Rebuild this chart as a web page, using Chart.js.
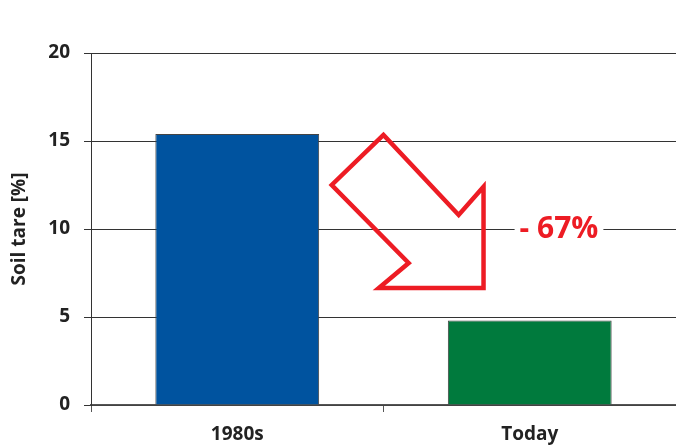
<!DOCTYPE html>
<html>
<head>
<meta charset="utf-8">
<script src="https://cdn.jsdelivr.net/npm/chart.js@4"></script>
<style>
	body { margin: 0; background: #fff; }
	#soilChart { display: block; }
</style>
</head>
<body>
<canvas id="soilChart" width="676" height="445"></canvas>
<script>
'use strict';

// 데이터
const periods = ['1980s', 'Today'];
const soilTare = [15.4, 4.8];
const barColors = ['#00539F', '#007A3D'];
const yTicks = [0, 5, 10, 15, 20];
const changeLabel = '- 67%';

// 화살표 모양 (x: 카테고리 인덱스, y: 값)
const arrowX = [0.0, -0.177, 0.086, -0.016, 0.342, 0.342, 0.257];
const arrowY = [15.35, 12.5, 8.07, 6.65, 6.65, 12.4, 10.8];

// 화살표 + 라벨 플러그인
const arrowPlugin = {
	id: 'arrowPlugin',
	afterDatasetsDraw(chart) {
		const ctx = chart.ctx;
		const xs = chart.scales.x;
		const ys = chart.scales.y;
		const base = 0.5;

		ctx.save();
		ctx.beginPath();
		arrowX.forEach((ax, i) => {
			const px = xs.getPixelForValue(base + ax);
			const py = ys.getPixelForValue(arrowY[i]);
			if (i === 0) ctx.moveTo(px, py); else ctx.lineTo(px, py);
		});
		ctx.closePath();
		ctx.lineWidth = 4.5;
		ctx.lineJoin = 'miter';
		ctx.strokeStyle = '#ED1C24';
		ctx.stroke();

		// - 67% 라벨
		ctx.font = 'bold 30px "Open Sans", sans-serif';
		ctx.textAlign = 'center';
		ctx.textBaseline = 'middle';
		const lx = xs.getPixelForValue(1.1);
		const ly = ys.getPixelForValue(10);
		const w = ctx.measureText(changeLabel).width + 10;
		ctx.fillStyle = '#fff';
		ctx.fillRect(lx - w / 2, ly - 15, w, 30);
		ctx.fillStyle = '#ED1C24';
		ctx.fillText(changeLabel, lx, ly);
		ctx.restore();
	}
};

const soil_chart = document.getElementById('soilChart');

new Chart(soil_chart, {
	type: 'bar',
	data: {
		labels: periods,
		datasets: [{
			label: 'Soil tare',
			data: soilTare,
			backgroundColor: barColors,
			borderColor: '#444',
			borderWidth: 1,
			categoryPercentage: 1,
			barPercentage: 0.56
		}]
	},
	options: {
		responsive: false,
		animation: false,
		layout: {
			padding: { top: 53, right: -6, left: 8, bottom: 0 }
		},
		plugins: {
			legend: { display: false },
			title: { display: false },
			tooltip: { enabled: false }
		},
		scales: {
			x: {
				offset: true,
				afterFit: axis => {
					axis.height = 40;
				},
				grid: {
					offset: true,
					drawOnChartArea: false,
					drawTicks: true,
					tickLength: 7,
					color: '#555'
				},
				border: { color: '#555', width: 1.5 },
				ticks: {
					color: '#222',
					padding: 11,
					font: { family: '"Open Sans", sans-serif', size: 19, weight: 'bold' }
				}
			},
			y: {
				min: 0,
				max: 20,
				afterBuildTicks: axis => {
					axis.ticks = yTicks.map(v => ({ value: v }));
				},
				afterFit: axis => {
					axis.width = 83;
				},
				grid: {
					color: '#333',
					lineWidth: 1,
					tickLength: 7
				},
				border: { color: '#333', width: 1 },
				ticks: {
					color: '#222',
					padding: 14,
					font: { family: '"Open Sans", sans-serif', size: 19, weight: 'bold' }
				},
				title: {
					display: true,
					text: 'Soil tare [%]',
					color: '#222',
					padding: { top: 0, bottom: 4 },
					font: { family: '"Open Sans", sans-serif', size: 19, weight: 'bold' }
				}
			}
		}
	},
	plugins: [arrowPlugin]
});
</script>
</body>
</html>
